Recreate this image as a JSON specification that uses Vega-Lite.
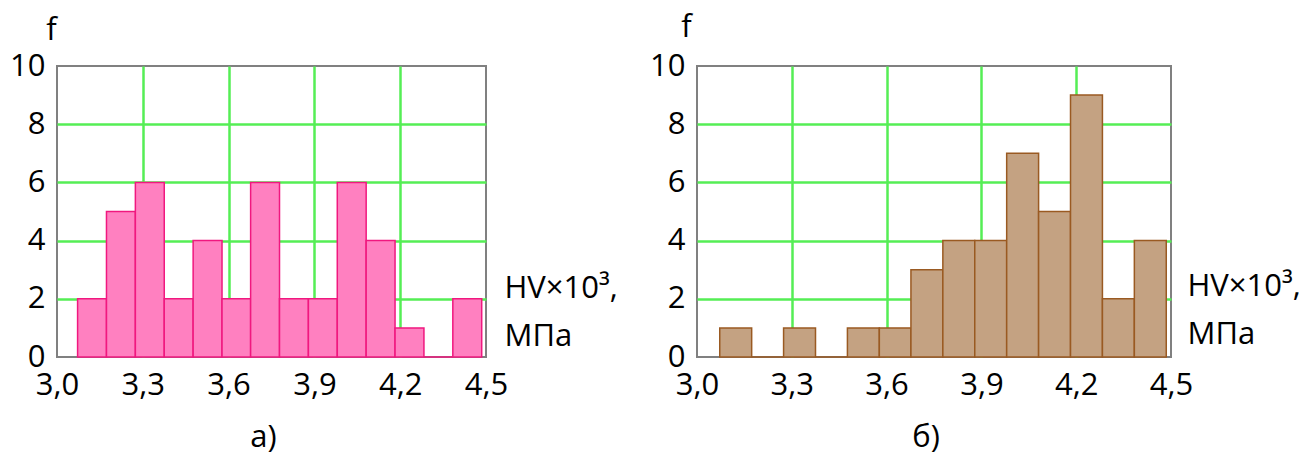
{
  "$schema": "https://vega.github.io/schema/vega-lite/v6.json",
  "autosize": {"type": "pad"},
  "padding": {"left": 8, "top": 10, "right": 5, "bottom": 5},
  "bounds": "flush",
  "spacing": 211,
  "background": "white",
  "datasets": {
    "a": [
      {"lo": 3.072, "hi": 3.173, "f": 2},
      {"lo": 3.173, "hi": 3.274, "f": 5},
      {"lo": 3.274, "hi": 3.375, "f": 6},
      {"lo": 3.375, "hi": 3.476, "f": 2},
      {"lo": 3.476, "hi": 3.577, "f": 4},
      {"lo": 3.577, "hi": 3.677, "f": 2},
      {"lo": 3.677, "hi": 3.778, "f": 6},
      {"lo": 3.778, "hi": 3.879, "f": 2},
      {"lo": 3.879, "hi": 3.980, "f": 2},
      {"lo": 3.980, "hi": 4.081, "f": 6},
      {"lo": 4.081, "hi": 4.182, "f": 4},
      {"lo": 4.182, "hi": 4.283, "f": 1},
      {"lo": 4.283, "hi": 4.384, "f": 0},
      {"lo": 4.384, "hi": 4.485, "f": 2}
    ],
    "b": [
      {"lo": 3.072, "hi": 3.173, "f": 1},
      {"lo": 3.173, "hi": 3.274, "f": 0},
      {"lo": 3.274, "hi": 3.375, "f": 1},
      {"lo": 3.375, "hi": 3.476, "f": 0},
      {"lo": 3.476, "hi": 3.577, "f": 1},
      {"lo": 3.577, "hi": 3.677, "f": 1},
      {"lo": 3.677, "hi": 3.778, "f": 3},
      {"lo": 3.778, "hi": 3.879, "f": 4},
      {"lo": 3.879, "hi": 3.980, "f": 4},
      {"lo": 3.980, "hi": 4.081, "f": 7},
      {"lo": 4.081, "hi": 4.182, "f": 5},
      {"lo": 4.182, "hi": 4.283, "f": 9},
      {"lo": 4.283, "hi": 4.384, "f": 2},
      {"lo": 4.384, "hi": 4.485, "f": 4}
    ]
  },
  "config": {
    "font": "Open Sans",
    "view": {"stroke": "#808080", "strokeWidth": 2},
    "axis": {
      "labelFont": "Open Sans", "labelFontSize": 31, "labelColor": "#000000",
      "ticks": false, "domain": false,
      "gridColor": "#55EE55", "gridWidth": 2.5,
      "labelFlush": false, "labelOverlap": false, "labelBound": false,
      "titleFont": "Open Sans", "titleFontSize": 31, "titleFontWeight": "normal", "titleColor": "#000000"
    },
    "title": {"font": "Open Sans", "fontSize": 31, "fontWeight": "normal", "color": "#000000"}
  },
  "hconcat": [
    {
      "width": 429, "height": 291,
      "data": {"name": "a"},
      "title": {"text": "а)", "orient": "bottom", "anchor": "middle", "dx": -8, "offset": 23},
      "mark": {"type": "rect", "fill": "#FF80C0", "stroke": "#F0187F", "strokeWidth": 1.5},
      "encoding": {
        "x": {"field": "lo", "type": "quantitative",
          "scale": {"domain": [3.0, 4.5], "nice": false, "zero": false},
          "axis": {"values": [3.0, 3.3, 3.6, 3.9, 4.2, 4.5], "grid": true,
            "gridOpacity": {"condition": {"test": "datum.value < 3.05 || datum.value > 4.45", "value": 0}, "value": 1},
            "labelExpr": "replace(format(datum.value, '.1f'), '.', ',')", "labelPadding": 13,
            "title": ["HV×10³,", "МПа"], "titleX": 447, "titleY": -60, "titleAlign": "left", "titleBaseline": "alphabetic", "titleAnchor": null, "titleLineHeight": 48}},
        "x2": {"field": "hi"},
        "y": {"field": "f", "type": "quantitative",
          "scale": {"domain": [0, 10], "nice": false},
          "axis": {"values": [0, 2, 4, 6, 8, 10], "grid": true,
            "gridOpacity": {"condition": {"test": "datum.value < 0.5 || datum.value > 9.5", "value": 0}, "value": 1},
            "labelPadding": 12,
            "title": "f", "titleAngle": 0, "titleX": -6, "titleY": -27, "titleAlign": "center", "titleBaseline": "alphabetic"}},
        "y2": {"datum": 0}
      }
    },
    {
      "width": 474, "height": 291,
      "data": {"name": "b"},
      "title": {"text": "б)", "orient": "bottom", "anchor": "middle", "dx": -8, "offset": 23},
      "mark": {"type": "rect", "fill": "#C4A282", "stroke": "#9A5A22", "strokeWidth": 1.5},
      "encoding": {
        "x": {"field": "lo", "type": "quantitative",
          "scale": {"domain": [3.0, 4.5], "nice": false, "zero": false},
          "axis": {"values": [3.0, 3.3, 3.6, 3.9, 4.2, 4.5], "grid": true,
            "gridOpacity": {"condition": {"test": "datum.value < 3.05 || datum.value > 4.45", "value": 0}, "value": 1},
            "labelExpr": "replace(format(datum.value, '.1f'), '.', ',')", "labelPadding": 13,
            "title": ["HV×10³,", "МПа"], "titleX": 490, "titleY": -62, "titleAlign": "left", "titleBaseline": "alphabetic", "titleAnchor": null, "titleLineHeight": 48}},
        "x2": {"field": "hi"},
        "y": {"field": "f", "type": "quantitative",
          "scale": {"domain": [0, 10], "nice": false},
          "axis": {"values": [0, 2, 4, 6, 8, 10], "grid": true,
            "gridOpacity": {"condition": {"test": "datum.value < 0.5 || datum.value > 9.5", "value": 0}, "value": 1},
            "labelPadding": 12,
            "title": "f", "titleAngle": 0, "titleX": -11, "titleY": -30, "titleAlign": "center", "titleBaseline": "alphabetic"}},
        "y2": {"datum": 0}
      }
    }
  ]
}
